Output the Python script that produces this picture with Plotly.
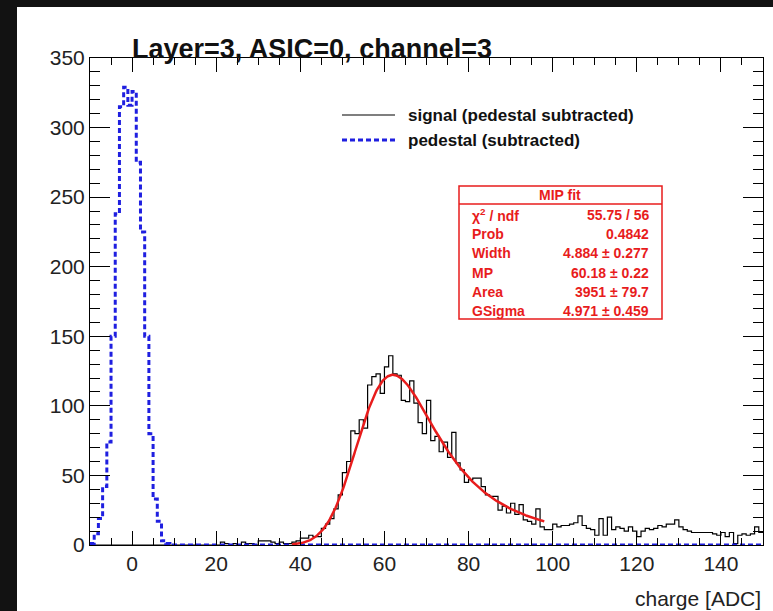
import numpy as np
import plotly.graph_objects as go

# ---------------- data ----------------
# 1-ADC bins from -10 to 150
x_min, x_max = -10, 150
bin_edges = np.arange(x_min, x_max + 1, 1)

# pedestal distribution, bins -10 .. 9 (all later bins empty)
pedestal_core = [1, 8, 19, 42, 74, 150, 238, 315, 329, 316,
                 326, 275, 225, 150, 80, 33, 17, 3, 1, 0]
pedestal_empty = [0] * 140

# signal (pedestal subtracted)
signal_below20 = [0] * 30                       # bins -10 .. 19
signal_low = [0, 2, 1, 0, 1, 0, 2, 1, 1, 0,     # bins 20 .. 37
              3, 3, 3, 2, 1, 2, 1, 1]
signal_peak = [2, 3, 5, 5, 7, 6, 6, 12, 15, 19,  # bins 38 .. 99
               26, 36, 52, 60, 82, 80, 90, 84, 115, 121,
               123, 109, 128, 136, 123, 122, 104, 103, 118, 102,
               88, 80, 104, 75, 78, 67, 74, 63, 81, 59,
               54, 45, 47, 48, 48, 42, 36, 35, 35, 25,
               28, 23, 30, 22, 29, 18, 17, 15, 26, 13,
               11, 11]
signal_tail = [15, 13, 14, 14, 15, 16, 21, 14, 12, 11,   # bins 100 .. 149
               7, 19, 7, 20, 11, 13, 12, 10, 13, 10,
               6, 10, 12, 11, 12, 14, 13, 15, 15, 18,
               13, 11, 10, 9, 9, 9, 9, 9, 8, 7,
               9, 6, 9, 1, 7, 8, 7, 8, 13, 9]

pedestal_counts = pedestal_core + pedestal_empty
signal_counts = signal_below20 + signal_low + signal_peak + signal_tail

# Landau (x) Gauss fit result
fit_width = 4.884
fit_mp = 60.18
fit_area = 3951.0
fit_gsigma = 4.971
fit_range = (38.0, 98.0)

stat_names = ["χ<sup>2</sup> / ndf", "Prob", "Width", "MP", "Area", "GSigma"]
stat_values = ["55.75 / 56", "0.4842", "4.884 ± 0.277", "60.18 ± 0.22",
               "3951 ± 79.7", "4.971 ± 0.459"]

x_ticks = [0, 20, 40, 60, 80, 100, 120, 140]
y_ticks = [0, 50, 100, 150, 200, 250, 300, 350]


# ---------------- fit function ----------------
def landau_density(lam):
    """Standard Landau density: (1/pi) * int_0^inf exp(-t ln t - lam t) sin(pi t) dt."""
    h = 0.002
    t = np.arange(1, 20001) * h
    tlogt = t * np.log(t)
    s = np.sin(np.pi * t)
    out = np.zeros_like(lam, dtype=float)
    for i in range(0, lam.size, 200):
        chunk = lam[i:i + 200]
        f = np.exp(-tlogt[None, :] - chunk[:, None] * t[None, :]) * s[None, :]
        out[i:i + 200] = f.sum(axis=1) * h / np.pi
    out[lam < -3.0] = 0.0
    return out


lam_tab = np.arange(-3.5, 25.0, 0.01)
phi_tab = landau_density(lam_tab)


def langaus(x, width, mp, area, gsigma):
    mpshift = -0.22278298
    mpc = mp - mpshift * width
    npt, sc = 100, 5.0
    res = np.zeros_like(x)
    for k, xv in enumerate(x):
        lo, hi = xv - sc * gsigma, xv + sc * gsigma
        step = (hi - lo) / npt
        xx = lo + (np.arange(npt) + 0.5) * step
        fl = np.interp((xx - mpc) / width, lam_tab, phi_tab, left=0.0, right=0.0) / width
        g = np.exp(-0.5 * ((xv - xx) / gsigma) ** 2)
        res[k] = area * step * np.sum(fl * g) / (np.sqrt(2 * np.pi) * gsigma)
    return res


fit_x = np.linspace(fit_range[0], fit_range[1], 361)
fit_y = langaus(fit_x, fit_width, fit_mp, fit_area, fit_gsigma)

# ---------------- figure ----------------
W, H = 773, 611
PX_L, PX_R, PY_T, PY_B = 90, 763, 58, 545


def fx(px):
    return (px - PX_L) / (PX_R - PX_L)


def fy(py):
    return (PY_B - py) / (PY_B - PY_T)


FONT = "Liberation Sans, Arial, Helvetica, sans-serif"
RED = "#e81c1c"
BLUE = "#1f1fe0"

fig = go.Figure()

fig.add_trace(go.Scatter(
    x=bin_edges, y=signal_counts + [signal_counts[-1]],
    mode="lines", line=dict(color="black", width=1.2, shape="hv"),
    name="signal (pedestal subtracted)", showlegend=False))

fig.add_trace(go.Scatter(
    x=bin_edges, y=pedestal_counts + [pedestal_counts[-1]],
    mode="lines", line=dict(color=BLUE, width=3, shape="hv", dash="5px,3px"),
    name="pedestal (subtracted)", showlegend=False))

fig.add_trace(go.Scatter(
    x=fit_x, y=fit_y, mode="lines",
    line=dict(color=RED, width=2.5), name="MIP fit", showlegend=False))

shapes = [
    # canvas
    dict(type="rect", xref="paper", yref="paper", layer="below",
         x0=fx(17), x1=fx(W + 5), y0=fy(7), y1=fy(H + 5),
         fillcolor="white", line=dict(width=0)),
    # legend samples
    dict(type="line", xref="paper", yref="paper",
         x0=fx(342), x1=fx(395), y0=fy(115), y1=fy(115),
         line=dict(color="black", width=1.2)),
    dict(type="line", xref="paper", yref="paper",
         x0=fx(342), x1=fx(395), y0=fy(140), y1=fy(140),
         line=dict(color=BLUE, width=3, dash="5px,3px")),
    # fit statistics box
    dict(type="rect", xref="paper", yref="paper",
         x0=fx(459), x1=fx(662), y0=fy(186), y1=fy(319),
         fillcolor="white", line=dict(color=RED, width=1.5)),
    dict(type="line", xref="paper", yref="paper",
         x0=fx(459), x1=fx(662), y0=fy(204), y1=fy(204),
         line=dict(color=RED, width=1.5)),
]

annotations = [
    dict(text="<b>Layer=3, ASIC=0, channel=3</b>", xref="paper", yref="paper",
         x=fx(130), y=fy(49), xanchor="left", yanchor="middle", showarrow=False,
         font=dict(family=FONT, size=27, color="#111")),
    dict(text="charge [ADC]", xref="paper", yref="paper",
         x=fx(763), y=fy(598), xanchor="right", yanchor="middle", showarrow=False,
         font=dict(family=FONT, size=21, color="#222")),
    dict(text="<b>signal (pedestal subtracted)</b>", xref="paper", yref="paper",
         x=fx(406), y=fy(115), xanchor="left", yanchor="middle", showarrow=False,
         font=dict(family=FONT, size=17, color="#111")),
    dict(text="<b>pedestal (subtracted)</b>", xref="paper", yref="paper",
         x=fx(406), y=fy(140), xanchor="left", yanchor="middle", showarrow=False,
         font=dict(family=FONT, size=17, color="#111")),
    dict(text="<b>MIP fit</b>", xref="paper", yref="paper",
         x=fx(560), y=fy(195), xanchor="center", yanchor="middle", showarrow=False,
         font=dict(family=FONT, size=14, color=RED)),
]
row_y = [215, 234, 253, 272.5, 291.5, 310.5]
for name, val, py in zip(stat_names, stat_values, row_y):
    annotations.append(dict(text="<b>" + name + "</b>", xref="paper", yref="paper",
                            x=fx(470), y=fy(py), xanchor="left", yanchor="middle",
                            showarrow=False, font=dict(family=FONT, size=14, color=RED)))
    annotations.append(dict(text="<b>" + val + "</b>", xref="paper", yref="paper",
                            x=fx(651), y=fy(py), xanchor="right", yanchor="middle",
                            showarrow=False, font=dict(family=FONT, size=14, color=RED)))

axis_common = dict(
    showline=True, linecolor="black", linewidth=1, mirror="ticks",
    ticks="inside", tickcolor="black", tickwidth=1,
    showgrid=False, zeroline=False,
    tickfont=dict(family=FONT, size=21, color="#222"),
)

fig.update_layout(
    width=W, height=H,
    margin=dict(l=PX_L, r=W - PX_R, t=PY_T, b=H - PY_B),
    paper_bgcolor="#121212", plot_bgcolor="white",
    showlegend=False,
    shapes=shapes, annotations=annotations,
    xaxis=dict(range=[x_min, x_max], tickvals=x_ticks, ticklen=14,
               minor=dict(dtick=5, tick0=0, ticklen=7, ticks="inside",
                          tickcolor="black", tickwidth=1),
               **axis_common),
    yaxis=dict(range=[0, 350], tickvals=y_ticks, ticklen=20,
               minor=dict(dtick=10, tick0=0, ticklen=10, ticks="inside",
                          tickcolor="black", tickwidth=1),
               **axis_common),
)

fig.write_html("out.html")
